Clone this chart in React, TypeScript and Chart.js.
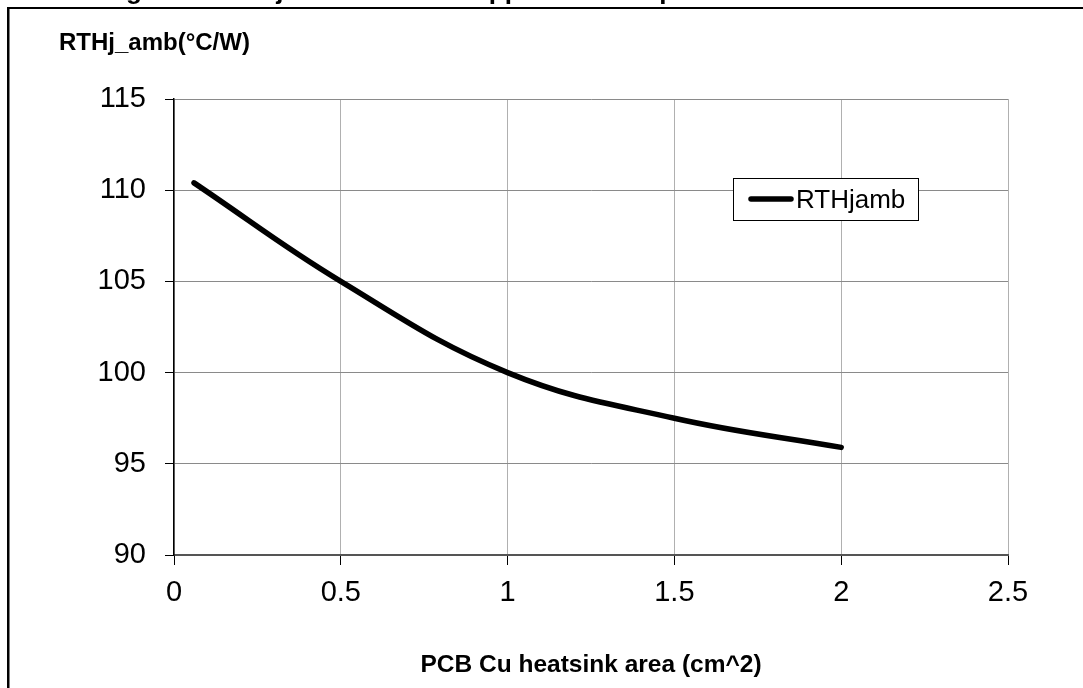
import React, { useEffect, useRef } from "react";
import { Chart, registerables } from "chart.js";

Chart.register(...registerables);

// ---- data ----
const areaCm2 = [0.06, 0.5, 1.0, 1.5, 2.0];
const rthjAmb = [110.4, 105.0, 100.0, 97.5, 95.9];
const seriesLabel = "RTHjamb";
const xTicks = [0, 0.5, 1, 1.5, 2, 2.5];
const yTicks = [90, 95, 100, 105, 110, 115];
const yTitle = "RTHj_amb(°C/W)";
const xTitle = "PCB Cu heatsink area (cm^2)";
const caption = "Figure 10. Rthj-amb vs. PCB copper area in open box free air condition";

const FONT = '"Liberation Sans", Arial, Helvetica, sans-serif';

const overlayPlugin = {
  id: "overlay",
  afterDraw(chart: any) {
    const ctx = chart.ctx as CanvasRenderingContext2D;
    const a = chart.chartArea;
    ctx.save();
    ctx.fillStyle = "#000";
    // page frame (left and top rules)
    ctx.fillRect(7, 7, 2.5, chart.height - 7);
    ctx.fillRect(7, 7, chart.width - 7, 2);
    // clipped caption above the frame
    ctx.textBaseline = "alphabetic";
    ctx.textAlign = "left";
    ctx.font = `bold 26px ${FONT}`;
    ctx.fillText(caption, 103, -1.5);
    // y axis title (horizontal, above the axis)
    ctx.font = `bold 24px ${FONT}`;
    ctx.fillText(yTitle, 59, 50);
    // x axis title
    ctx.textAlign = "center";
    ctx.font = `bold 24.5px ${FONT}`;
    ctx.fillText(xTitle, (a.left + a.right) / 2, 672);
    // legend box
    const ds = chart.data.datasets[0];
    const bx = 733, by = 178, bw = 185, bh = 42;
    ctx.fillStyle = "#fff";
    ctx.fillRect(bx, by, bw, bh);
    ctx.strokeStyle = "#000";
    ctx.lineWidth = 1;
    ctx.strokeRect(bx + 0.5, by + 0.5, bw, bh);
    ctx.beginPath();
    ctx.lineCap = "round";
    ctx.lineWidth = ds.borderWidth;
    ctx.strokeStyle = ds.borderColor;
    ctx.moveTo(bx + 18, by + 21);
    ctx.lineTo(bx + 58, by + 21);
    ctx.stroke();
    ctx.fillStyle = "#000";
    ctx.textAlign = "left";
    ctx.font = `26px ${FONT}`;
    ctx.fillText(ds.label, bx + 63, by + 30);
    ctx.restore();
  },
};

export default function App() {
  const ref = useRef<HTMLCanvasElement | null>(null);

  useEffect(() => {
    if (!ref.current) return;
    Chart.defaults.font.family = FONT;
    const chart = new Chart(ref.current, {
      type: "line",
      data: {
        datasets: [
          {
            label: seriesLabel,
            data: areaCm2.map((x, i) => ({ x, y: rthjAmb[i] })),
            borderColor: "#000",
            borderWidth: 5.5,
            borderCapStyle: "round",
            borderJoinStyle: "round",
            pointRadius: 0,
            tension: 0.4,
            fill: false,
          } as any,
        ],
      },
      options: {
        responsive: false,
        animation: false,
        events: [],
        layout: { padding: { left: 40, top: 99, right: 75, bottom: 0 } },
        plugins: { legend: { display: false }, tooltip: { enabled: false }, title: { display: false } },
        scales: {
          x: {
            type: "linear",
            min: xTicks[0],
            max: xTicks[xTicks.length - 1],
            ticks: {
              stepSize: xTicks[1] - xTicks[0],
              color: "#000",
              font: { size: 29 },
              padding: 11,
              maxRotation: 0,
              callback: (v: any) => String(Number(v)),
            },
            grid: { color: "#b0b0b0", lineWidth: 1, tickColor: "#000", tickLength: 10 },
            border: { color: "#555", width: 2 },
            afterFit: (s: any) => {
              s.height = 133;
            },
          },
          y: {
            type: "linear",
            min: yTicks[0],
            max: yTicks[yTicks.length - 1],
            ticks: {
              stepSize: yTicks[1] - yTicks[0],
              color: "#000",
              font: { size: 29 },
              padding: 19,
              callback: (v: any) => String(Number(v)),
            },
            grid: { color: "#8a8a8a", lineWidth: 1, tickColor: "#000", tickLength: 9 },
            border: { color: "#000", width: 1.5 },
            afterFit: (s: any) => {
              s.width = 134;
            },
          },
        },
      },
      plugins: [overlayPlugin],
    });
    return () => chart.destroy();
  }, []);

  return (
    <div style={{ position: "fixed", left: 0, top: 0, width: 1083, height: 688, background: "#fff" }}>
      <canvas ref={ref} width={1083} height={688} style={{ display: "block" }} />
    </div>
  );
}
